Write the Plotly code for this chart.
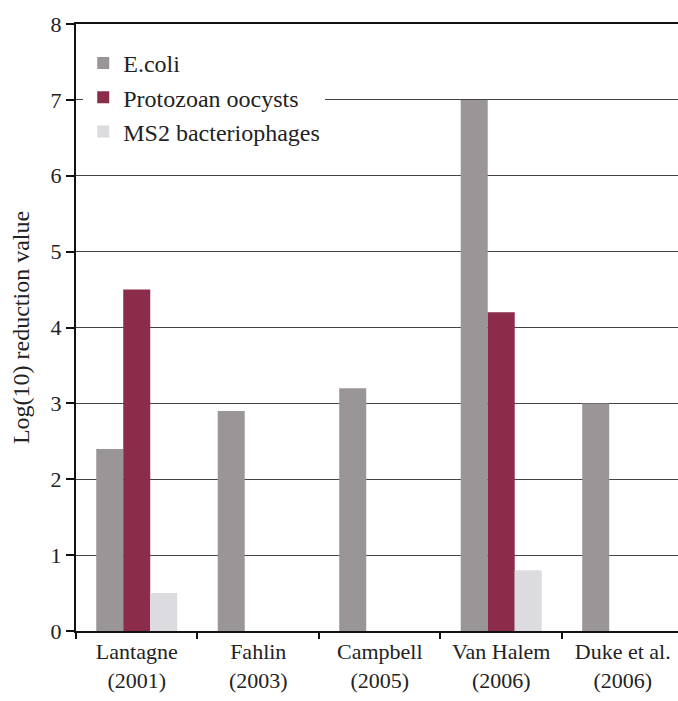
import plotly.graph_objects as go

categories = ["Lantagne<br>(2001)", "Fahlin<br>(2003)", "Campbell<br>(2005)",
              "Van Halem<br>(2006)", "Duke et al.<br>(2006)"]
ecoli = [2.4, 2.9, 3.2, 7.0, 3.0]
protozoan = [4.5, None, None, 4.2, None]
ms2 = [0.5, None, None, 0.8, None]

series = [
    ("E.coli", ecoli, "#9a9698"),
    ("Protozoan oocysts", protozoan, "#8a2c4a"),
    ("MS2 bacteriophages", ms2, "#dcdbe0"),
]

FONT = "Liberation Serif"

fig = go.Figure()
for name, vals, col in series:
    fig.add_trace(go.Bar(x=categories, y=vals, name=name, marker_color=col,
                         marker_line_width=0))

fig.update_layout(
    width=678, height=701,
    margin=dict(l=76, r=0, t=24, b=70, autoexpand=False),
    paper_bgcolor="white", plot_bgcolor="white",
    barmode="group", bargap=0.333, bargroupgap=0,
    font=dict(family=FONT, size=22, color="#222222"),
    showlegend=True,
    legend=dict(x=0.012, y=0.972, xanchor="left", yanchor="top",
                bgcolor="white", borderwidth=0,
                font=dict(family=FONT, size=24, color="#222222"),
                tracegroupgap=0),
    xaxis=dict(type="category", range=[-0.5, 4.455],
               showline=True, linecolor="#111111", linewidth=2, mirror=True,
               ticks="outside", tickson="boundaries", ticklen=6,
               tickcolor="#111111", tickwidth=1.5,
               showgrid=False, tickfont=dict(size=22)),
    yaxis=dict(range=[0, 8], dtick=1, tick0=0,
               showline=True, linecolor="#111111", linewidth=2,
               ticks="outside", ticklen=8, tickcolor="#111111", tickwidth=1.5,
               showgrid=True, gridcolor="#444444", gridwidth=1,
               zeroline=False,
               tickfont=dict(size=22),
               title=dict(text="Log(10) reduction value",
                          font=dict(size=24), standoff=14)),
)

fig.write_html("out.html",
               config={"displayModeBar": False},
               post_script="document.body.style.margin='0';"
                           "document.body.style.overflow='hidden';")
